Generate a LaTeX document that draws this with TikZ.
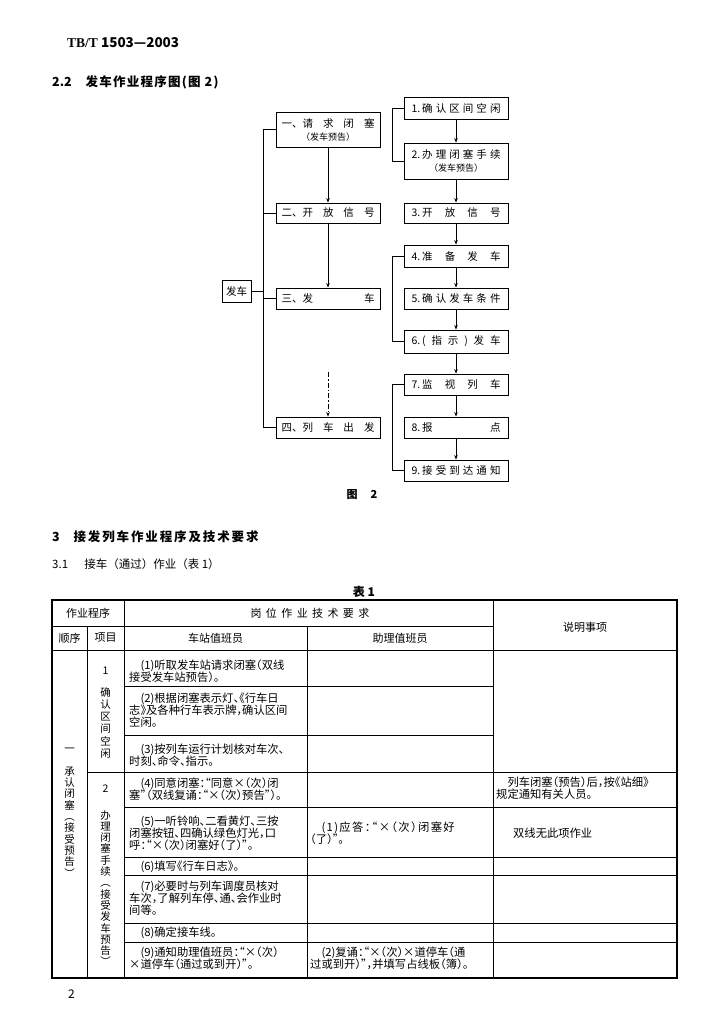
\documentclass[tikz,border=0pt]{standalone}
\usepackage{fontspec}
\setmainfont{Noto Sans CJK SC}
\newfontfamily\lserif{Liberation Serif}
\usetikzlibrary{arrows.meta}
\tikzset{
  fbox/.style={draw, line width=0.8pt, inner sep=0pt, minimum width=104pt, font=\fontsize{10.5}{12}\selectfont, align=center},
  conn/.style={line width=0.8pt},
  arr/.style={line width=0.8pt, -{Stealth[length=4.5pt,width=3.5pt]}},
  tl/.style={line width=0.9pt},
  cell/.style={anchor=west, inner sep=0pt, align=left, font=\fontsize{11.3}{11.9}\selectfont\addfontfeature{RawFeature=+halt}},
  hcell/.style={inner sep=0pt, font=\fontsize{11}{12}\selectfont},
  vtext/.style={anchor=north, inner sep=0pt, align=center},
  lbl/.style={inner sep=0pt},
}
\begin{document}
\begin{tikzpicture}[x=1pt,y=-1pt]
\useasboundingbox (0,0) rectangle (712,1024);
\fill[white] (0,0) rectangle (712,1024);

% ---- headings ----
\node[lbl, anchor=base west, font=\fontsize{13.5}{15}\selectfont\bfseries] (hdr) at (67,48) {{\lserif TB/T} 1503—2003};
\node[lbl, anchor=west, font=\fontsize{12.5}{14}\selectfont\bfseries] (s22) at (52,82.5) {2.2\hspace{1.1em}{\addfontfeature{LetterSpace=10}发车作业程序图(图 2)}};

% ---- flowchart ----
\node[fbox, minimum width=29pt, minimum height=22pt] (fa) at (236.5,291) {发车};

\node[fbox, minimum height=35pt] (L1) at (328,129.5) {\makebox[93pt][s]{一、请\hfill 求\hfill 闭\hfill 塞}\\[1pt]{\fontsize{9}{10}\selectfont （发车预告）}};
\node[fbox, minimum height=20pt] (L2) at (328,213) {\makebox[93pt][s]{二、开\hfill 放\hfill 信\hfill 号}};
\node[fbox, minimum height=21pt] (L3) at (328,298.5) {\makebox[93pt][s]{三、发\hfill 车}};
\node[fbox, minimum height=21pt] (L4) at (328,427.5) {\makebox[93pt][s]{四、列\hfill 车\hfill 出\hfill 发}};

\node[fbox, minimum height=22pt] (R1) at (456,108) {\makebox[89pt][s]{1.\hspace{2pt}确\hfill 认\hfill 区\hfill 间\hfill 空\hfill 闲}};
\node[fbox, minimum height=36pt] (R2) at (456,161) {\makebox[89pt][s]{2.\hspace{2pt}办\hfill 理\hfill 闭\hfill 塞\hfill 手\hfill 续}\\[1pt]{\fontsize{9}{10}\selectfont （发车预告）}};
\node[fbox, minimum height=20pt] (R3) at (456,213) {\makebox[89pt][s]{3.\hspace{2pt}开\hfill 放\hfill 信\hfill 号}};
\node[fbox, minimum height=22pt] (R4) at (456,256) {\makebox[89pt][s]{4.\hspace{2pt}准\hfill 备\hfill 发\hfill 车}};
\node[fbox, minimum height=21pt] (R5) at (456,298.5) {\makebox[89pt][s]{5.\hspace{2pt}确\hfill 认\hfill 发\hfill 车\hfill 条\hfill 件}};
\node[fbox, minimum height=23pt] (R6) at (456,341.5) {\makebox[89pt][s]{6.\hspace{2pt}(\hfill 指\hfill 示\hfill )\hfill 发\hfill 车}};
\node[fbox, minimum height=21pt] (R7) at (456,384.5) {\makebox[89pt][s]{7.\hspace{2pt}监\hfill 视\hfill 列\hfill 车}};
\node[fbox, minimum height=21pt] (R8) at (456,427.5) {\makebox[89pt][s]{8.\hspace{2pt}报\hfill 点}};
\node[fbox, minimum height=21pt] (R9) at (456,470.5) {\makebox[89pt][s]{9.\hspace{2pt}接\hfill 受\hfill 到\hfill 达\hfill 通\hfill 知}};

% main bracket
\coordinate (mbT) at (263,129.5);
\coordinate (mbB) at (263,427.5);
\draw[conn] (L1.west) -- (mbT) -- (mbB) -- (L4.west);
\draw[conn] (L2.west) -- (L2.west -| mbT);
\draw[conn] (L3.west) -- (L3.west -| mbT);
\draw[conn] (fa.east) -- (fa.east -| mbT);

% left arrows
\draw[arr] (L1.south) -- (L2.north);
\draw[arr] (L2.south) -- (L3.north);
\coordinate (dd) at (328,372);
\draw[arr, dash pattern=on 5pt off 2pt on 1.5pt off 2pt] (dd) -- (L4.north);

% right arrows
\draw[arr] (R1.south) -- (R2.north);
\draw[arr] (R2.south) -- (R3.north);
\draw[arr] (R3.south) -- (R4.north);
\draw[arr] (R4.south) -- (R5.north);
\draw[arr] (R5.south) -- (R6.north);
\draw[arr] (R6.south) -- (R7.north);
\draw[arr] (R7.south) -- (R8.north);
\draw[arr] (R8.south) -- (R9.north);

% sub brackets
\coordinate (sb) at (392,0);
\draw[conn] (R1.west) -- (R1.west -| sb) -- (R2.west -| sb) -- (R2.west);
\draw[conn] (R4.west) -- (R4.west -| sb) -- (R6.west -| sb) -- (R6.west);
\draw[conn] (R7.west) -- (R7.west -| sb) -- (R9.west -| sb) -- (R9.west);

\node[lbl, font=\fontsize{11}{12}\selectfont\bfseries] (cap) at (362,495) {图\hspace{1.2em}2};

% ---- section 3 ----
\node[lbl, anchor=west, font=\fontsize{12.5}{14}\selectfont\bfseries] (s3) at (52,536.5) {3\hspace{1.1em}{\addfontfeature{LetterSpace=15}接发列车作业程序及技术要求}};
\node[lbl, anchor=west, font=\fontsize{11.5}{14}\selectfont] (s31) at (52,564) {3.1\hspace{1.4em}接车（通过）作业（表 1）};
\node[lbl, font=\fontsize{12}{14}\selectfont\bfseries] (t1) at (364,592) {表 1};

% ---- table ----
\draw[line width=1.2pt] (52,600) rectangle (677,978);
\draw[tl] (52,626) -- (493,626);
\draw[tl] (52,650) -- (677,650);
\draw[tl] (87,626) -- (87,978);
\draw[tl] (124,600) -- (124,978);
\draw[tl] (307,626) -- (307,978);
\draw[tl] (493,600) -- (493,978);
\draw[tl] (124,686) -- (493,686);
\draw[tl] (124,735) -- (493,735);
\draw[tl] (87,772) -- (677,772);
\draw[tl] (124,807) -- (677,807);
\draw[tl] (124,857) -- (677,857);
\draw[tl] (124,875) -- (677,875);
\draw[tl] (124,923) -- (677,923);
\draw[tl] (124,942) -- (677,942);

\node[hcell] (h1) at (88,613) {作业程序};
\node[hcell] (h2) at (310,613) {\addfontfeature{LetterSpace=40}岗位作业技术要求};
\node[hcell] (h3) at (585,627) {说明事项};
\node[hcell] (h4) at (69.5,638) {顺序};
\node[hcell] (h5) at (105.5,638) {项目};
\node[hcell] (h6) at (215.5,638) {车站值班员};
\node[hcell] (h7) at (400,638) {助理值班员};

% vertical texts
\node[vtext, font=\fontsize{10.5}{12}\selectfont] (v1) at (105.5,667) {1};
\node[vtext, font=\fontsize{10.5}{12.3}\selectfont] (v2) at (105.5,687) {确\\认\\区\\间\\空\\闲};
\node[vtext, font=\fontsize{10.5}{12}\selectfont] (v3) at (105.5,785) {2};
\node[vtext, font=\fontsize{10.5}{11.3}\selectfont] (v4) at (105.5,810) {办\\理\\闭\\塞\\手\\续\\︵\\接\\受\\发\\车\\预\\告\\︶};
\node[vtext, font=\fontsize{10.5}{11.3}\selectfont] (v5) at (69.5,748) {一\\[11.3pt]承\\认\\闭\\塞\\︵\\接\\受\\预\\告\\︶};

% column 3
\node[cell] (c1) at (129,671) {\hspace*{1em}(1)听取发车站请求闭塞（双线\\接受发车站预告）。};
\node[cell] (c2) at (129,710.5) {\hspace*{1em}(2)根据闭塞表示灯、《行车日\\志》及各种行车表示牌，确认区间\\空闲。};
\node[cell] (c3) at (129,755) {\hspace*{1em}(3)按列车运行计划核对车次、\\时刻、命令、指示。};
\node[cell] (c4) at (129,789) {\hspace*{1em}(4)同意闭塞：“同意×（次）闭\\塞”（双线复诵：“×（次）预告”）。};
\node[cell] (c5) at (129,833) {\hspace*{1em}(5)一听铃响、二看黄灯、三按\\闭塞按钮、四确认绿色灯光，口\\呼：“×（次）闭塞好（了）”。};
\node[cell] (c6) at (129,866.5) {\hspace*{1em}(6)填写《行车日志》。};
\node[cell] (c7) at (129,898.5) {\hspace*{1em}(7)必要时与列车调度员核对\\车次，了解列车停、通、会作业时\\间等。};
\node[cell] (c8) at (129,933) {\hspace*{1em}(8)确定接车线。};
\node[cell] (c9) at (129,958.5) {\hspace*{1em}(9)通知助理值班员：“×（次）\\×道停车（通过或到开）”。};

% column 4
\node[cell] (d1) at (310,833) {\hspace*{1em}{\addfontfeature{LetterSpace=12}(1)应答：“×（次）闭塞好}\\（了）”。};
\node[cell] (d2) at (310,958.5) {\hspace*{1em}(2)复诵：“×（次）×道停车（通\\过或到开）”，并填写占线板（簿）。};

% column 5
\node[cell] (e1) at (496,788.5) {\hspace*{1em}列车闭塞（预告）后，按《站细》\\规定通知有关人员。};
\node[cell] (e2) at (496,833) {\hspace*{1.5em}双线无此项作业};

\node[lbl, font=\fontsize{12}{14}\selectfont] (pg) at (71.5,994) {2};
\end{tikzpicture}
\end{document}
